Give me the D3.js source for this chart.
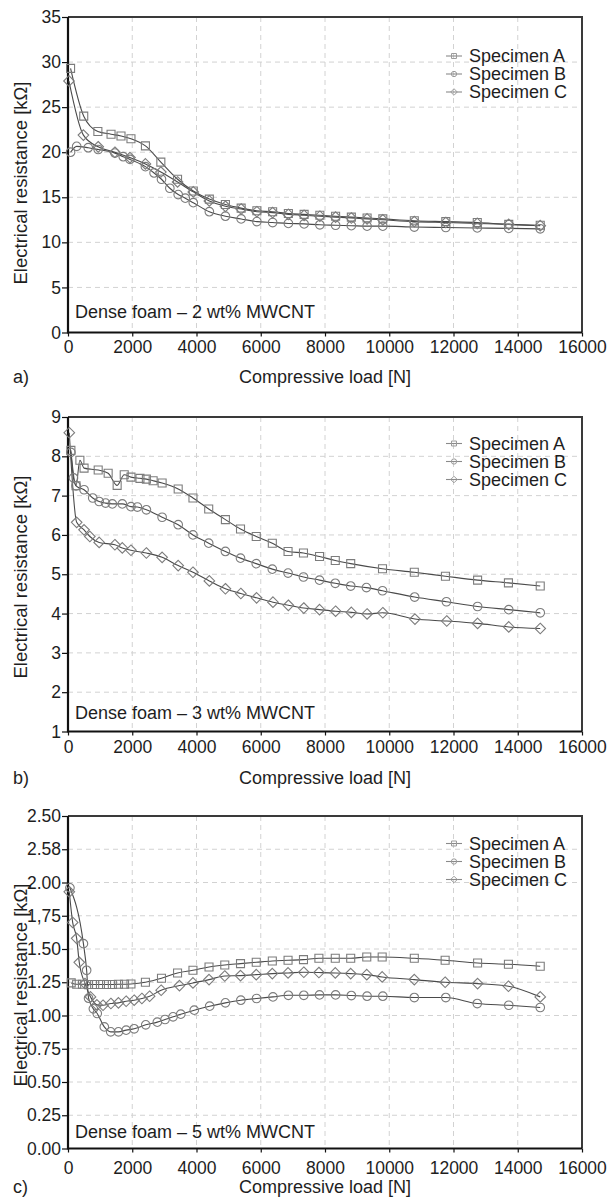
<!DOCTYPE html>
<html><head><meta charset="utf-8">
<script src="https://cdn.jsdelivr.net/npm/d3@7"></script>
<style>
html,body{margin:0;padding:0;background:#fff;}
text{font-family:"Liberation Sans",Arial,Helvetica,sans-serif;fill:#1e1e1e;}
</style></head>
<body>
<script>
// ---------- DATA ----------
const xTickValues = [0,2000,4000,6000,8000,10000,12000,14000,16000];
const xTickLabels = ["0","2000","4000","6000","8000","10000","12000","14000","16000"];
const seriesNames = ["Specimen A","Specimen B","Specimen C"];

// Panel a) 2 wt%
const yTicks2 = [0,5,10,15,20,25,30,35];
const yTickLabels2 = ["0","5","10","15","20","25","30","35"];
const load2A = [80,490,930,1340,1650,1960,2410,2890,3410,3900,4400,4900,5390,5880,6370,6860,7350,7840,8330,8820,9310,9800,10780,11760,12740,13720,14700];
const res2A  = [29.3,24.0,22.3,22.0,21.8,21.5,20.7,18.9,17.0,15.7,14.8,14.2,13.8,13.5,13.4,13.2,13.1,13.0,12.9,12.8,12.7,12.6,12.4,12.3,12.2,12.0,11.9];
const load2B = [80,270,630,940,1460,1720,1930,2410,2680,2910,3170,3430,3650,3900,4400,4900,5390,5880,6370,6860,7350,7840,8330,8820,9310,9800,10780,11760,12740,13720,14700];
const res2B  = [20.0,20.65,20.5,20.3,19.9,19.5,19.2,18.4,17.7,17.0,16.0,15.3,14.9,14.4,13.4,12.9,12.6,12.3,12.2,12.1,12.05,11.95,11.9,11.85,11.8,11.8,11.7,11.65,11.6,11.55,11.5];
const load2C = [30,480,940,1460,1930,2410,2890,3410,3900,4400,4900,5390,5880,6370,6860,7350,7840,8330,8820,9310,9800,10780,11760,12740,13720,14700];
const res2C  = [27.9,21.9,20.6,20.0,19.4,18.7,17.8,16.7,15.6,14.6,14.0,13.7,13.4,13.3,13.1,13.0,12.9,12.8,12.7,12.6,12.5,12.3,12.2,12.1,12.0,11.85];

// Panel b) 3 wt%
const yTicks3 = [1,2,3,4,5,6,7,8,9];
const yTickLabels3 = ["1","2","3","4","5","6","7","8","9"];
const load3A = [90,250,370,500,940,1250,1530,1750,1960,2240,2440,2650,2930,3430,3890,4380,4900,5370,5860,6360,6850,7330,7830,8320,8800,9790,10780,11750,12750,13710,14700];
const res3A  = [8.15,7.25,7.9,7.7,7.65,7.57,7.26,7.53,7.47,7.44,7.42,7.38,7.32,7.17,6.94,6.66,6.39,6.15,5.96,5.79,5.58,5.54,5.45,5.35,5.27,5.14,5.05,4.95,4.85,4.78,4.70];
const load3B = [90,170,250,500,770,970,1170,1380,1690,1960,2160,2440,2930,3430,3890,4380,4900,5370,5860,6360,6850,7330,7830,8320,8800,9290,9790,10790,11780,12750,13720,14700];
const res3B  = [8.1,7.45,7.25,7.15,6.94,6.85,6.81,6.79,6.79,6.72,6.71,6.64,6.45,6.26,6.0,5.79,5.58,5.41,5.27,5.13,5.03,4.93,4.85,4.77,4.70,4.66,4.58,4.42,4.30,4.18,4.10,4.02];
const load3C = [40,270,500,680,970,1460,1690,1960,2440,2930,3430,3890,4400,4900,5380,5870,6380,6860,7340,7830,8330,8820,9310,9800,10800,11790,12750,13720,14700];
const res3C  = [8.6,6.32,6.13,5.96,5.81,5.75,5.67,5.61,5.54,5.43,5.22,5.05,4.83,4.63,4.51,4.40,4.29,4.21,4.14,4.10,4.06,4.03,3.99,4.02,3.86,3.81,3.75,3.66,3.62];

// Panel c) 5 wt%
const yTicks5 = [0,0.25,0.5,0.75,1.0,1.25,1.5,1.75,2.0,2.25,2.5];
const yTickLabels5 = ["0.00","0.25","0.50","0.75","1.00","1.25","1.50","1,75","2.00","2.58","2.50"];
const load5A = [100,270,450,640,830,1010,1200,1380,1570,1760,1960,2410,2910,3410,3890,4390,4880,5370,5860,6360,6850,7330,7810,8320,8800,9300,9780,10780,11740,12750,13710,14700];
const res5A  = [1.245,1.235,1.235,1.233,1.233,1.233,1.233,1.233,1.235,1.235,1.237,1.25,1.28,1.32,1.34,1.365,1.38,1.39,1.40,1.41,1.415,1.42,1.43,1.43,1.43,1.44,1.44,1.43,1.415,1.395,1.385,1.37];
const load5B = [60,480,580,640,790,910,1130,1330,1570,1810,2060,2420,2780,3020,3270,3510,3930,4410,4900,5380,5870,6380,6860,7340,7830,8330,8820,9310,9800,10780,11760,12740,13720,14700];
const res5B  = [1.96,1.54,1.34,1.13,1.05,1.015,0.914,0.877,0.877,0.89,0.90,0.93,0.95,0.97,0.99,1.01,1.04,1.07,1.095,1.115,1.128,1.14,1.152,1.152,1.155,1.155,1.15,1.145,1.145,1.135,1.135,1.09,1.077,1.06];
const load5C = [40,145,270,350,530,700,900,1090,1335,1570,1810,2060,2300,2540,2900,3470,3890,4390,4880,5370,5860,6360,6850,7340,7810,8320,8800,9300,9780,10780,11740,12750,13710,14700];
const res5C  = [1.93,1.70,1.58,1.40,1.24,1.14,1.08,1.077,1.09,1.095,1.107,1.115,1.128,1.145,1.19,1.225,1.245,1.27,1.297,1.30,1.307,1.315,1.32,1.325,1.323,1.32,1.315,1.307,1.29,1.27,1.25,1.24,1.22,1.14];

const notes = ["Dense foam \u2013 2 wt% MWCNT","Dense foam \u2013 3 wt% MWCNT","Dense foam \u2013 5 wt% MWCNT"];
const letters = ["a)","b)","c)"];
const xTitle = "Compressive load [N]";
const yTitle = "Electrical resistance [k\u03A9]";

// ---------- LAYOUT ----------
const W = 609, H = 1201, L = 68, R = 582;
const panels = [
  {top:17, bottom:332.5, dom:[0,35], ticks:yTicks2, labels:yTickLabels2,
   series:[[load2A,res2A],[load2B,res2B],[load2C,res2C]],
   legendOff:39, tickPad:4, titleY:376.5, noteY:311.7, yTitleY:183},
  {top:417, bottom:731.5, dom:[1,9], ticks:yTicks3, labels:yTickLabels3,
   series:[[load3A,res3A],[load3B,res3B],[load3C,res3C]],
   legendOff:26.5, tickPad:5, titleY:778, noteY:712.7, yTitleY:577},
  {top:816, bottom:1148.5, dom:[0,2.5], ticks:yTicks5, labels:yTickLabels5,
   series:[[load5A,res5A],[load5B,res5B],[load5C,res5C]],
   legendOff:27.5, tickPad:9.5, titleY:1187, noteY:1131.7, yTitleY:985}
];

const symPaths = [
  s => `M${-4*s},${-4*s}h${8*s}v${8*s}h${-8*s}Z`,
  s => `M${-4.3*s},0a${4.3*s},${4.3*s} 0 1,0 ${8.6*s},0a${4.3*s},${4.3*s} 0 1,0 ${-8.6*s},0Z`,
  s => `M0,${-5.3*s}L${5.3*s},0L0,${5.3*s}L${-5.3*s},0Z`
];

const svg = d3.select("body").append("svg").attr("width",W).attr("height",H);
svg.append("rect").attr("width",W).attr("height",H).attr("fill","#fff");

const x = d3.scaleLinear().domain([0,16000]).range([L,R]);

panels.forEach((p,pi) => {
  const y = d3.scaleLinear().domain(p.dom).range([p.bottom,p.top]);
  const g = svg.append("g");

  // grid
  g.selectAll(".vg").data(xTickValues.slice(1,-1)).enter().append("line")
    .attr("x1",d=>x(d)).attr("x2",d=>x(d)).attr("y1",p.top).attr("y2",p.bottom)
    .attr("stroke","#d2d2d2").attr("stroke-width",1).attr("stroke-dasharray","5,4");
  g.selectAll(".hg").data(p.ticks.slice(1,-1)).enter().append("line")
    .attr("x1",L).attr("x2",R).attr("y1",d=>y(d)).attr("y2",d=>y(d))
    .attr("stroke","#d2d2d2").attr("stroke-width",1).attr("stroke-dasharray","5,4");

  // frame top/right
  g.append("path").attr("d",`M${L},${p.top}H${R}V${p.bottom}`)
    .attr("fill","none").attr("stroke","#3a3a3a").attr("stroke-width",2);

  // axes
  const ya = g.append("g").attr("transform",`translate(${L},0)`)
    .call(d3.axisLeft(y).tickValues(p.ticks).tickFormat((d,i)=>p.labels[i]).tickSize(6).tickPadding(1));
  ya.select(".domain").remove();
  ya.selectAll("line").attr("stroke","#111").attr("stroke-width",1.2);
  ya.selectAll("text").attr("font-size","17.5px").attr("fill","#1e1e1e")
    .style("font-family","'Liberation Sans',Arial,sans-serif");

  const xa = g.append("g").attr("transform",`translate(0,${p.bottom})`)
    .call(d3.axisBottom(x).tickValues(xTickValues).tickFormat((d,i)=>xTickLabels[i]).tickSize(4).tickPadding(p.tickPad));
  xa.select(".domain").remove();
  xa.selectAll("line").attr("stroke","#111").attr("stroke-width",1.2);
  xa.selectAll("text").attr("font-size","17.5px").attr("fill","#1e1e1e")
    .style("font-family","'Liberation Sans',Arial,sans-serif");

  g.append("path").attr("d",`M${L},${p.top}V${p.bottom}H${R}`)
    .attr("fill","none").attr("stroke","#111").attr("stroke-width",2.2);

  // series
  const line = d3.line().x(d=>x(d[0])).y(d=>y(d[1])).curve(d3.curveMonotoneX);
  p.series.forEach((s,si) => {
    const pts = s[0].map((v,i)=>[v,s[1][i]]);
    g.append("path").datum(pts).attr("d",line)
      .attr("fill","none").attr("stroke","#4a4a4a").attr("stroke-width",1.1);
  });
  p.series.forEach((s,si) => {
    const pts = s[0].map((v,i)=>[v,s[1][i]]);
    g.selectAll(null).data(pts).enter().append("path")
      .attr("d",symPaths[si](1))
      .attr("transform",d=>`translate(${x(d[0])},${y(d[1])})`)
      .attr("fill","none").attr("stroke","#7c7c7c").attr("stroke-width",1.1);
  });

  // legend
  seriesNames.forEach((nm,i) => {
    const ly = p.top + p.legendOff + i*18;
    g.append("line").attr("x1",446).attr("x2",462).attr("y1",ly).attr("y2",ly)
      .attr("stroke","#8a8a8a").attr("stroke-width",1.1);
    g.append("path").attr("d",symPaths[i](0.62)).attr("transform",`translate(454,${ly})`)
      .attr("fill","none").attr("stroke","#9a9a9a").attr("stroke-width",1);
    g.append("text").attr("x",469).attr("y",ly).attr("dy","0.35em")
      .attr("font-size","18px").text(nm);
  });

  // note
  g.append("text").attr("x",75).attr("y",p.noteY).attr("dy","0.35em")
    .attr("font-size","18px").text(notes[pi]);

  // titles
  g.append("text").attr("x",(L+R)/2).attr("y",p.titleY).attr("dy","0.35em")
    .attr("text-anchor","middle").attr("font-size","18px").text(xTitle);
  g.append("text").attr("x",13).attr("y",p.titleY).attr("dy","0.35em")
    .attr("font-size","18px").text(letters[pi]);
  g.append("text").attr("transform",`translate(21,${p.yTitleY}) rotate(-90)`)
    .attr("text-anchor","middle").attr("dy","0.35em")
    .attr("font-size","18.5px").text(yTitle);
});
</script>
</body></html>
